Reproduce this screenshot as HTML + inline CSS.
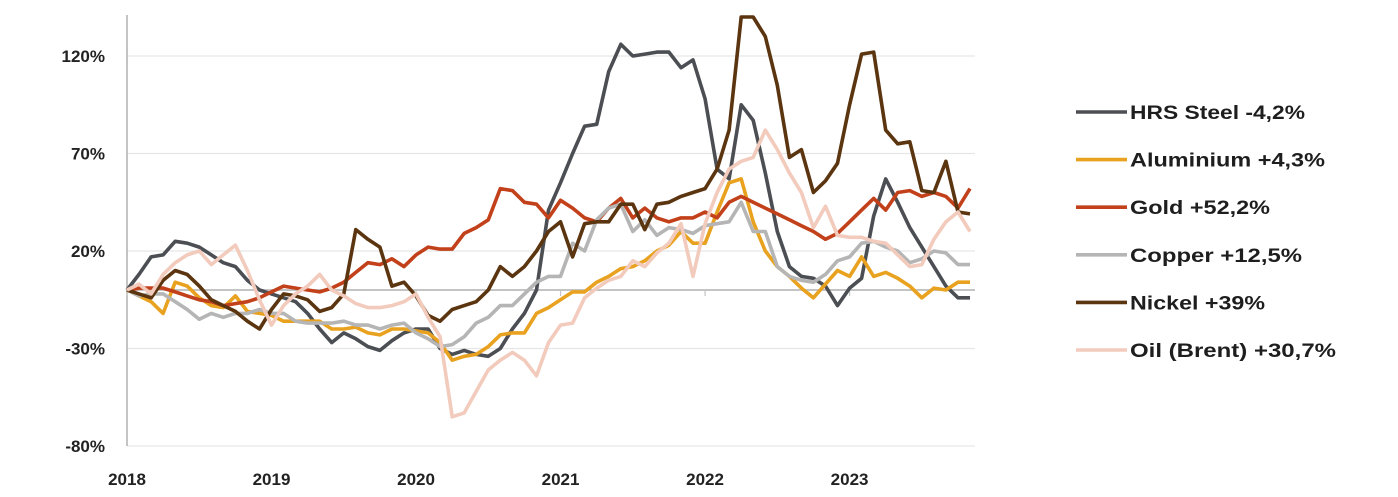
<!DOCTYPE html>
<html><head><meta charset="utf-8"><style>
html,body{margin:0;padding:0;background:#fff;}
svg{display:block;font-family:"Liberation Sans",sans-serif;}
</style></head><body>
<svg id="chart" width="1398" height="497" viewBox="0 0 1398 497">
<g id="grid"></g>
<g id="axes"></g>
<g id="series"></g>
<g id="legend"></g>
</svg>
<script>
const yTicks = [120, 70, 20, -30, -80];
const yearLabels = ["2018","2019","2020","2021","2022","2023"];
const seriesNames = ["HRS Steel -4,2%","Aluminium +4,3%","Gold +52,2%","Copper  +12,5%","Nickel +39%","Oil (Brent) +30,7%"];
const steel = [0,8,17,18,25,24,22,18,14,12,5,0,-2,-4,-6,-12,-20,-27,-22,-25,-29,-31,-26,-22,-20,-20,-30,-33,-31,-33,-34,-30,-20,-12,0,41,55,70,84,85,112,126,120,121,122,122,114,118,98,62,57,95,87,60,30,12,7,6,2,-8,1,6,38,57,45,32,22,12,2,-4,-4];
const aluminium = [0,-3,-6,-12,4,2,-4,-8,-9,-3,-11,-12,-13,-16,-16,-16,-16,-20,-20,-19,-22,-23,-20,-20,-21,-22,-27,-36,-34,-33,-29,-23,-22,-22,-12,-9,-5,-1,-1,4,7,11,12,15,20,23,30,24,24,40,55,57,35,20,12,7,1,-4,3,10,7,17,7,9,6,2,-4,1,0,4,4];
const gold = [0,1,1,1,-1,-3,-5,-6,-8,-7,-6,-4,-1,2,1,0,-1,1,4,9,14,13,16,12,18,22,21,21,29,32,36,52,51,45,44,37,46,42,37,35,42,47,37,42,37,35,37,37,40,37,45,48,45,42,39,36,33,30,26,29,35,41,47,41,50,51,48,50,48,42,52];
const copper = [0,-3,-2,-2,-6,-10,-15,-12,-14,-12,-12,-10,-12,-12,-16,-17,-17,-17,-16,-18,-18,-20,-18,-17,-22,-25,-29,-28,-24,-17,-14,-8,-8,-2,4,7,7,24,20,36,42,44,30,36,28,32,31,29,33,34,35,45,30,30,12,7,5,4,8,15,17,24,25,22,20,14,16,20,19,13,13];
const nickel = [0,-2,-4,5,10,8,2,-5,-8,-11,-16,-20,-10,-2,-3,-5,-11,-9,-2,31,26,22,2,4,-3,-13,-16,-10,-8,-6,0,12,7,12,20,30,35,17,34,35,35,44,44,31,44,45,48,50,52,62,82,140,140,130,105,68,72,50,56,65,95,121,122,82,75,76,51,50,66,40,39];
const oil = [0,3,-2,8,14,18,20,13,18,23,10,-5,-18,-8,-2,2,8,0,-3,-7,-9,-9,-8,-6,-2,-14,-24,-65,-63,-52,-41,-36,-32,-36,-44,-27,-18,-17,-4,1,5,7,15,12,19,24,34,7,34,50,62,66,68,82,72,60,50,32,43,28,27,27,25,24,18,12,13,26,35,40,30];
const allSeries = [steel, aluminium, gold, copper, nickel, oil];
const colors = ["#4b4e53","#e9a21f","#c2411b","#b5b5b5","#5b3410","#f2cbbd"];
const seriesKeys = ["hrs-steel","aluminium","gold","copper","nickel","oil-brent"];
const legendWidths = [175, 195, 140, 172, 135, 206];

const X0 = 127, X1 = 970, Y0 = 290, PX = 1.95;
const nPts = steel.length;
function xs(i){ return X0 + i*(X1-X0)/(nPts-1); }
function ys(v){ return Y0 - v*PX; }
const NS = "http://www.w3.org/2000/svg";
function mk(tag, parent){ const e = document.createElementNS(NS, tag); parent.appendChild(e); return e; }

const grid = document.getElementById('grid');
const axes = document.getElementById('axes');
yTicks.forEach(t => {
  const l = mk('line', grid);
  l.setAttribute('x1', X0); l.setAttribute('x2', 975);
  l.setAttribute('y1', ys(t)); l.setAttribute('y2', ys(t));
  l.setAttribute('stroke', '#e6e6e6'); l.setAttribute('stroke-width', 1.2);
  
  
  const tx = mk('text', axes);
  tx.setAttribute('x', 105); tx.setAttribute('y', ys(t) + 6);
  tx.setAttribute('text-anchor', 'end'); tx.setAttribute('font-size', '17'); tx.setAttribute('font-weight', 'bold'); tx.setAttribute('fill', '#222');
  tx.textContent = t + '%';
  
  
});
const va = mk('line', axes);
va.setAttribute('x1', X0); va.setAttribute('x2', X0); va.setAttribute('y1', 15); va.setAttribute('y2', 446);
va.setAttribute('stroke', '#b0b0b0'); va.setAttribute('stroke-width', 1.5);


const za = mk('line', axes);
za.setAttribute('x1', X0); za.setAttribute('x2', 975); za.setAttribute('y1', Y0); za.setAttribute('y2', Y0);
za.setAttribute('stroke', '#c4c4c4'); za.setAttribute('stroke-width', 2);


yearLabels.forEach((y, k) => {
  const x = xs(k*12);
  const tk = mk('line', axes);
  tk.setAttribute('x1', x); tk.setAttribute('x2', x); tk.setAttribute('y1', Y0); tk.setAttribute('y2', Y0 + 6);
  tk.setAttribute('stroke', '#c4c4c4'); tk.setAttribute('stroke-width', 1.2);
  
  
  const tx = mk('text', axes);
  tx.setAttribute('x', x); tx.setAttribute('y', 485);
  tx.setAttribute('text-anchor', 'middle'); tx.setAttribute('font-size', '17'); tx.setAttribute('font-weight', 'bold'); tx.setAttribute('fill', '#222');
  tx.textContent = y;
  
  
});

const sg = document.getElementById('series');
allSeries.forEach((arr, s) => {
  const p = mk('polyline', sg);
  p.setAttribute('points', arr.map((v, i) => xs(i).toFixed(1) + ',' + ys(v).toFixed(1)).join(' '));
  p.setAttribute('fill', 'none'); p.setAttribute('stroke', colors[s]); p.setAttribute('stroke-width', 3.6);
  p.setAttribute('stroke-linejoin', 'round');
  
  
});

const lg = document.getElementById('legend');
seriesNames.forEach((n, s) => {
  const y = 112 + s*47.6;
  const l = mk('line', lg);
  l.setAttribute('x1', 1076); l.setAttribute('x2', 1127); l.setAttribute('y1', y); l.setAttribute('y2', y);
  l.setAttribute('stroke', colors[s]); l.setAttribute('stroke-width', 3.6);
  
  
  const t = mk('text', lg);
  t.setAttribute('x', 1130); t.setAttribute('y', y + 7);
  t.setAttribute('font-size', '19'); t.setAttribute('font-weight', 'bold'); t.setAttribute('fill', '#1e1e1e');
  t.setAttribute('textLength', legendWidths[s]); t.setAttribute('lengthAdjust', 'spacingAndGlyphs');
  t.setAttribute('xml:space', 'preserve');
  t.textContent = n;
  
  
});
</script>
</body></html>
